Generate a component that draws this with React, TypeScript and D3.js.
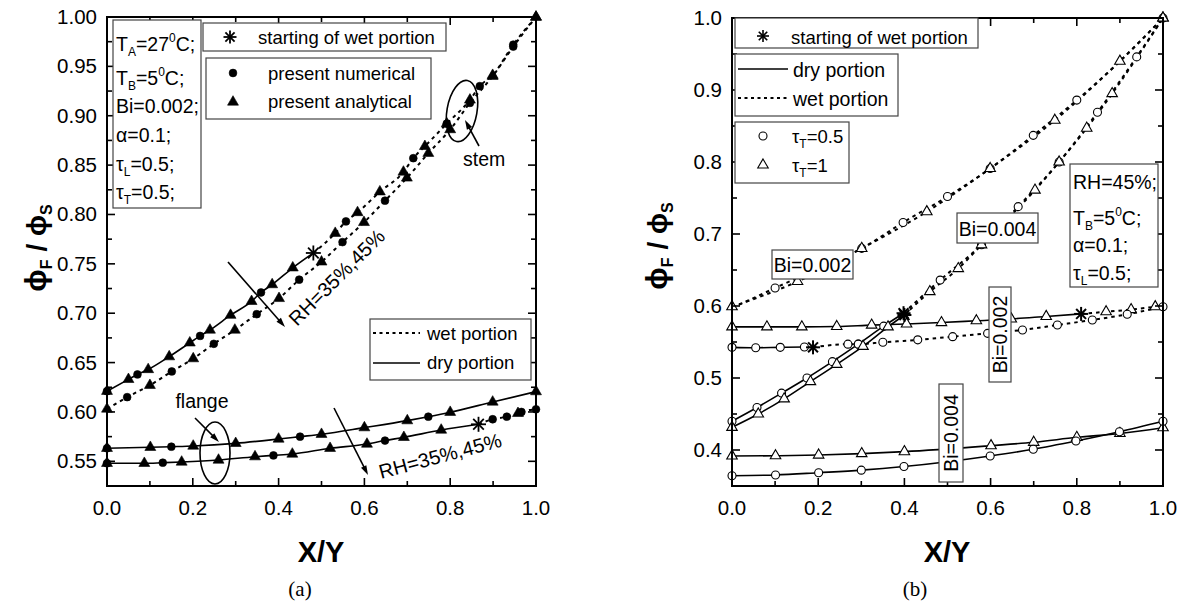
import React from 'react';
import * as d3 from 'd3';

// ---------- shared axis ticks ----------
const xTicks = [0, 0.2, 0.4, 0.6, 0.8, 1.0];
const xMinorTicks = [0.1, 0.3, 0.5, 0.7, 0.9];

// ---------- panel (a) ----------
const aYTicks = [0.55, 0.6, 0.65, 0.7, 0.75, 0.8, 0.85, 0.9, 0.95, 1.0];
const aYMinor = [0.575, 0.625, 0.675, 0.725, 0.775, 0.825, 0.875, 0.925, 0.975];

// stem, RH=35% (dry up to the star, then wet)
const aStem35X = [0, 0.05, 0.071, 0.096, 0.145, 0.193, 0.217, 0.24, 0.288, 0.337, 0.359, 0.385, 0.433, 0.481, 0.532, 0.557, 0.584, 0.636, 0.691, 0.714, 0.741, 0.792, 0.846, 0.869, 0.899, 0.947, 1.0];
const aStem35Y = [0.621, 0.633, 0.638, 0.643, 0.656, 0.67, 0.677, 0.683, 0.698, 0.712, 0.721, 0.729, 0.746, 0.761, 0.781, 0.793, 0.802, 0.823, 0.843, 0.857, 0.869, 0.892, 0.916, 0.93, 0.941, 0.972, 1.0];
const aStem35M = ['ct', 't', 'c', 't', 't', 't', 'c', 't', 't', 't', 'c', 't', 't', 's', 't', 'c', 't', 't', 't', 'c', 't', 'ct', 't', 'c', 't', 'c', 't'];

// stem, RH=45% (wet all along)
const aStem45X = [0, 0.047, 0.1, 0.151, 0.201, 0.249, 0.298, 0.349, 0.401, 0.448, 0.5, 0.549, 0.599, 0.648, 0.699, 0.749, 0.8, 0.846, 0.899, 0.947, 1.0];
const aStem45Y = [0.603, 0.615, 0.627, 0.641, 0.654, 0.669, 0.683, 0.699, 0.715, 0.734, 0.752, 0.772, 0.792, 0.814, 0.837, 0.862, 0.886, 0.913, 0.94, 0.97, 1.0];
const aStem45M = ['t', 'c', 't', 'c', 't', 'c', 't', 'c', 't', 'c', 't', 'c', 't', 'c', 't', 't', 't', 'c', 't', 'c', 't'];

// flange, RH=35% (dry all along)
const aFl35X = [0, 0.101, 0.15, 0.201, 0.3, 0.4, 0.45, 0.5, 0.6, 0.7, 0.749, 0.8, 0.899, 1.0];
const aFl35Y = [0.5632, 0.5642, 0.5648, 0.5655, 0.5682, 0.5726, 0.575, 0.5774, 0.5841, 0.5912, 0.5952, 0.5997, 0.6101, 0.6206];
const aFl35M = ['ct', 't', 'c', 't', 't', 't', 'c', 't', 't', 't', 'c', 't', 't', 't'];

// flange, RH=45% (dry up to the star, then wet)
const aFl45X = [0, 0.087, 0.13, 0.174, 0.26, 0.345, 0.388, 0.432, 0.52, 0.606, 0.648, 0.692, 0.779, 0.866, 0.899, 0.932, 0.958, 0.966, 1.0];
const aFl45Y = [0.548, 0.548, 0.5486, 0.5493, 0.5513, 0.5547, 0.556, 0.5574, 0.5632, 0.5675, 0.571, 0.5743, 0.5817, 0.5875, 0.5926, 0.5952, 0.5986, 0.6, 0.6027];
const aFl45M = ['ct', 't', 'c', 't', 't', 't', 'c', 't', 't', 't', 'c', 't', 't', 's', 'c', 'c', 't', 'c', 'c'];

// ---------- panel (b) ----------
const bYTicks = [0.4, 0.5, 0.6, 0.7, 0.8, 0.9, 1.0];
const bYMinor = [0.45, 0.55, 0.65, 0.75, 0.85, 0.95];

// Bi=0.002 stem, tau_T=0.5 and 1 (wet all along)
const bS2cX = [0, 0.1, 0.2, 0.301, 0.397, 0.5, 0.599, 0.699, 0.8, 0.9, 1.0];
const bS2cY = [0.597, 0.625, 0.652, 0.68, 0.716, 0.752, 0.791, 0.837, 0.886, 0.94, 1.0];
const bS2cM = ['', 'c', '', 'c', 'c', 'c', 'c', 'c', 'c', '', 'c'];
const bS2tX = [0, 0.152, 0.301, 0.452, 0.599, 0.749, 0.9, 1.0];
const bS2tY = [0.599, 0.634, 0.68, 0.731, 0.791, 0.858, 0.94, 1.0];
const bS2tM = ['t', 't', 't', 't', 't', 't', 't', 't'];

// Bi=0.002 flange
const bF2tX = [0, 0.081, 0.162, 0.243, 0.324, 0.405, 0.486, 0.567, 0.648, 0.729, 0.81, 0.868, 0.926, 0.982];
const bF2tY = [0.571, 0.571, 0.571, 0.5715, 0.5735, 0.575, 0.577, 0.5795, 0.582, 0.5855, 0.589, 0.592, 0.595, 0.599];
const bF2tM = ['t', 't', 't', 't', 't', 't', 't', 't', 't', 't', 's', 't', 't', 't'];
const bF2cX = [0, 0.055, 0.112, 0.168, 0.188, 0.269, 0.293, 0.35, 0.431, 0.512, 0.593, 0.674, 0.755, 0.836, 0.917, 1.0];
const bF2cY = [0.5426, 0.542, 0.5426, 0.543, 0.5426, 0.547, 0.547, 0.5496, 0.553, 0.5574, 0.562, 0.5667, 0.5736, 0.5806, 0.5885, 0.599];
const bF2cM = ['c', 'c', 'c', 'c', 's', 'c', 'c', 'c', 'c', 'c', 'c', 'c', 'c', 'c', 'c', 'c'];

// Bi=0.004 stem
const bS4cX = [0, 0.058, 0.115, 0.174, 0.233, 0.293, 0.352, 0.398, 0.483, 0.579, 0.664, 0.759, 0.848, 0.939, 1.0];
const bS4cY = [0.44, 0.459, 0.479, 0.5, 0.5227, 0.547, 0.572, 0.59, 0.636, 0.685, 0.738, 0.8, 0.869, 0.946, 1.0];
const bS4cM = ['c', 'c', 'c', 'c', 'c', 'c', 'c', 's', 'c', 'c', 'c', 'c', 'c', 'c', ''];
const bS4tX = [0, 0.061, 0.121, 0.182, 0.243, 0.304, 0.362, 0.4, 0.459, 0.525, 0.579, 0.703, 0.759, 0.823, 0.882, 1.0];
const bS4tY = [0.4315, 0.45, 0.471, 0.495, 0.519, 0.544, 0.571, 0.5875, 0.62, 0.652, 0.685, 0.761, 0.8, 0.847, 0.895, 1.0];
const bS4tM = ['t', 't', 't', 't', 't', 't', 't', 's', 't', 't', 't', 't', 't', 't', 't', 't'];

// Bi=0.004 flange (dry all along)
const bF4tX = [0, 0.101, 0.201, 0.301, 0.4, 0.601, 0.7, 0.8, 0.9, 1.0];
const bF4tY = [0.3917, 0.392, 0.393, 0.395, 0.3977, 0.406, 0.4107, 0.4176, 0.423, 0.431];
const bF4cX = [0, 0.101, 0.201, 0.3, 0.399, 0.599, 0.699, 0.798, 0.899, 1.0];
const bF4cY = [0.3643, 0.3653, 0.3685, 0.372, 0.377, 0.3917, 0.401, 0.4125, 0.4254, 0.44];

type Curve = { x: number[]; y: number[]; m: string[]; wet: number };

const aCurves: Curve[] = [
  { x: aStem35X, y: aStem35Y, m: aStem35M, wet: 13 },
  { x: aStem45X, y: aStem45Y, m: aStem45M, wet: 0 },
  { x: aFl35X, y: aFl35Y, m: aFl35M, wet: -1 },
  { x: aFl45X, y: aFl45Y, m: aFl45M, wet: 13 },
];
const bCurves: Curve[] = [
  { x: bS2cX, y: bS2cY, m: bS2cM, wet: 0 },
  { x: bS2tX, y: bS2tY, m: bS2tM, wet: 0 },
  { x: bF2tX, y: bF2tY, m: bF2tM, wet: 10 },
  { x: bF2cX, y: bF2cY, m: bF2cM, wet: 4 },
  { x: bS4cX, y: bS4cY, m: bS4cM, wet: 7 },
  { x: bS4tX, y: bS4tY, m: bS4tM, wet: 7 },
  { x: bF4tX, y: bF4tY, m: bF4tX.map(() => 't'), wet: -1 },
  { x: bF4cX, y: bF4cY, m: bF4cX.map(() => 'c'), wet: -1 },
];

const SANS = '"Liberation Sans", Arial, sans-serif';
const SERIF = '"Liberation Serif", "Times New Roman", serif';

const axs = d3.scaleLinear().domain([0, 1]).range([107, 536]);
const ays = d3.scaleLinear().domain([0.525, 1]).range([486, 17]);
const bxs = d3.scaleLinear().domain([0, 1]).range([732, 1163]);
const bys = d3.scaleLinear().domain([0.35, 1]).range([486, 18]);

const Star = ({ x, y, r, w = 1.8 }: any) => (
  <g stroke="#000" strokeWidth={w}>
    {[0, 45, 90, 135].map(a => {
      const t = (a * Math.PI) / 180;
      return <line key={a} x1={x - r * Math.cos(t)} y1={y - r * Math.sin(t)} x2={x + r * Math.cos(t)} y2={y + r * Math.sin(t)} />;
    })}
  </g>
);

const Mark = ({ k, x, y, open }: any) => {
  const tri = d3.symbol().type(d3.symbolTriangle).size(open ? 48 : 52)();
  return (
    <g>
      {k.includes('c') && (
        <circle cx={x} cy={y} r={open ? 4 : 3.9} fill={open ? '#fff' : '#000'} stroke="#000" strokeWidth={open ? 1.1 : 0.6} />
      )}
      {k.includes('t') && (
        <path d={tri || ''} transform={`translate(${x},${y})`} fill={open ? '#fff' : '#000'} stroke="#000" strokeWidth={open ? 1.1 : 0.6} />
      )}
      {k.includes('s') && <Star x={x} y={y} r={open ? 7 : 7.5} w={open ? 2 : 1.8} />}
    </g>
  );
};

const Arrow = ({ x1, y1, x2, y2, h = 10 }: any) => {
  const a = Math.atan2(y2 - y1, x2 - x1);
  const p = (s: number) => `${x2 - h * Math.cos(a + s)},${y2 - h * Math.sin(a + s)}`;
  return (
    <g>
      <line x1={x1} y1={y1} x2={x2 - 4 * Math.cos(a)} y2={y2 - 4 * Math.sin(a)} stroke="#000" strokeWidth={1.6} />
      <polygon points={`${x2},${y2} ${p(0.3)} ${p(-0.3)}`} fill="#000" />
    </g>
  );
};

function Curves({ curves, xs, ys, open }: any) {
  return (
    <g>
      {curves.map((c: Curve, ci: number) => {
        const line = d3
          .line<number>()
          .x(i => xs(c.x[i]))
          .y(i => ys(c.y[i]))
          .curve(d3.curveMonotoneX);
        const idx = c.x.map((_, i) => i);
        const dry = c.wet < 0 ? idx : idx.slice(0, c.wet + 1);
        const wet = c.wet < 0 ? [] : idx.slice(c.wet);
        return (
          <g key={ci}>
            {dry.length > 1 && <path d={line(dry) || ''} fill="none" stroke="#000" strokeWidth={1.6} />}
            {wet.length > 1 && <path d={line(wet) || ''} fill="none" stroke="#000" strokeWidth={2} strokeDasharray="3.5,4" />}
          </g>
        );
      })}
      {curves.map((c: Curve, ci: number) =>
        c.x.map((v, i) => (c.m[i] ? <Mark key={`${ci}-${i}`} k={c.m[i]} x={xs(v)} y={ys(c.y[i])} open={open} /> : null))
      )}
    </g>
  );
}

function Frame({ xs, ys, yTicks, yMinor, fmt }: any) {
  const [l, r] = xs.range();
  const [b, t] = ys.range();
  const M = 8, m = 5;
  return (
    <g stroke="#000" strokeWidth={1.6}>
      <rect x={l} y={t} width={r - l} height={b - t} fill="none" strokeWidth={2} />
      {xTicks.map((v: number) => (
        <g key={'x' + v}>
          <line x1={xs(v)} x2={xs(v)} y1={b} y2={b - M} />
          <line x1={xs(v)} x2={xs(v)} y1={t} y2={t + M} />
        </g>
      ))}
      {xMinorTicks.map((v: number) => (
        <g key={'xm' + v}>
          <line x1={xs(v)} x2={xs(v)} y1={b} y2={b - m} />
          <line x1={xs(v)} x2={xs(v)} y1={t} y2={t + m} />
        </g>
      ))}
      {yTicks.map((v: number) => (
        <g key={'y' + v}>
          <line x1={l} x2={l + M} y1={ys(v)} y2={ys(v)} />
          <line x1={r} x2={r - M} y1={ys(v)} y2={ys(v)} />
        </g>
      ))}
      {yMinor.map((v: number) => (
        <g key={'ym' + v}>
          <line x1={l} x2={l + m} y1={ys(v)} y2={ys(v)} />
          <line x1={r} x2={r - m} y1={ys(v)} y2={ys(v)} />
        </g>
      ))}
      <g stroke="none" fill="#000" fontFamily={SANS} fontSize={20.5}>
        {xTicks.map((v: number) => (
          <text key={'xl' + v} x={xs(v)} y={b + 29} textAnchor="middle">
            {v.toFixed(1)}
          </text>
        ))}
        {yTicks.map((v: number) => (
          <text key={'yl' + v} x={l - 10} y={ys(v) + 7} textAnchor="end">
            {fmt(v)}
          </text>
        ))}
      </g>
    </g>
  );
}

const YTitle = ({ x, y }: any) => (
  <text transform={`translate(${x},${y}) rotate(-90)`} textAnchor="middle" fontFamily={SANS} fontWeight="bold" fontSize={30}>
    ϕ<tspan fontSize={16} dy={6}>F</tspan>
    <tspan dy={-6} fontSize={28}> / ϕ</tspan>
    <tspan fontSize={16} dy={6}>S</tspan>
  </text>
);

const Sub = ({ t, s, rest, sup, tail }: any) => (
  <>
    {t}
    <tspan fontSize={12} dy={5}>{s}</tspan>
    <tspan dy={-5}>{rest}</tspan>
    {sup !== undefined && (
      <>
        <tspan fontSize={12} dy={-9}>{sup}</tspan>
        <tspan dy={9}>{tail}</tspan>
      </>
    )}
  </>
);

export default function App() {
  const box = { fill: '#fff', stroke: '#444', strokeWidth: 1.2 };
  return (
    <svg width={1187} height={606} style={{ position: 'absolute', left: 0, top: 0, background: '#fff' }} fontFamily={SANS}>
      {/* ---------- panel (a) ---------- */}
      <Curves curves={aCurves} xs={axs} ys={ays} open={false} />
      <Frame xs={axs} ys={ays} yTicks={aYTicks} yMinor={aYMinor} fmt={(v: number) => v.toFixed(2)} />

      {/* parameter box */}
      <rect x={113} y={20} width={88} height={188} {...box} />
      <g fontSize={19.5}>
        <text x={116} y={51}><Sub t="T" s="A" rest="=27" sup="0" tail="C;" /></text>
        <text x={116} y={85}><Sub t="T" s="B" rest="=5" sup="0" tail="C;" /></text>
        <text x={116} y={113}>Bi=0.002;</text>
        <text x={116} y={142}>α=0.1;</text>
        <text x={116} y={171}><Sub t="τ" s="L" rest="=0.5;" /></text>
        <text x={116} y={199}><Sub t="τ" s="T" rest="=0.5;" /></text>
      </g>

      {/* legends */}
      <rect x={203} y={23} width={243} height={28} {...box} />
      <Star x={230} y={37} r={6.5} w={1.8} />
      <text x={258} y={44} fontSize={18.5}>starting of wet portion</text>
      <rect x={206} y={58} width={225} height={61} {...box} />
      <Mark k="c" x={233} y={73} open={false} />
      <Mark k="t" x={233} y={102} open={false} />
      <text x={268} y={80} fontSize={18.5}>present numerical</text>
      <text x={268} y={108} fontSize={18.5}>present analytical</text>

      <rect x={370} y={319} width={161} height={61} {...box} />
      <line x1={373} x2={420} y1={333} y2={333} stroke="#000" strokeWidth={2} strokeDasharray="3,3.5" />
      <line x1={373} x2={420} y1={363} y2={363} stroke="#000" strokeWidth={1.6} />
      <text x={427} y={340} fontSize={18.5}>wet portion</text>
      <text x={427} y={369} fontSize={18.5}>dry portion</text>

      {/* stem annotations */}
      <ellipse cx={462} cy={111} rx={15} ry={31} transform="rotate(10,462,111)" fill="none" stroke="#000" strokeWidth={1.6} />
      <Arrow x1={479} y1={146} x2={465} y2={120} />
      <text x={463} y={166} fontSize={19.5}>stem</text>
      <Arrow x1={228} y1={262} x2={285} y2={327} />
      <text transform="translate(297,327) rotate(-45)" fontSize={20}>RH=35%,45%</text>

      {/* flange annotations */}
      <ellipse cx={215} cy={453} rx={15} ry={31} fill="none" stroke="#000" strokeWidth={1.6} />
      <Arrow x1={195} y1={418} x2={219} y2={442} />
      <text x={202} y={408} fontSize={19.5} textAnchor="middle">flange</text>
      <Arrow x1={334} y1={408} x2={368} y2={475} />
      <text transform="translate(381,479) rotate(-15)" fontSize={20}>RH=35%,45%</text>

      <text x={321} y={562} textAnchor="middle" fontWeight="bold" fontSize={29}>X/Y</text>
      <YTitle x={46} y={248} />
      <text x={300} y={596} textAnchor="middle" fontFamily={SERIF} fontSize={21}>(a)</text>

      {/* ---------- panel (b) ---------- */}
      <Curves curves={bCurves} xs={bxs} ys={bys} open={true} />
      <Frame xs={bxs} ys={bys} yTicks={bYTicks} yMinor={bYMinor} fmt={(v: number) => v.toFixed(1)} />

      <rect x={735} y={18} width={243} height={30} {...box} />
      <Star x={763} y={36} r={6} w={1.6} />
      <text x={791} y={44} fontSize={18.5}>starting of wet portion</text>
      <rect x={735} y={54} width={163} height={62} {...box} />
      <line x1={738} x2={788} y1={69} y2={69} stroke="#000" strokeWidth={1.6} />
      <line x1={738} x2={788} y1={98} y2={98} stroke="#000" strokeWidth={1.8} strokeDasharray="3,3.5" />
      <text x={793} y={77} fontSize={19.5}>dry portion</text>
      <text x={793} y={106} fontSize={19.5}>wet portion</text>
      <rect x={735} y={122} width={114} height={61} {...box} />
      <Mark k="c" x={763} y={136} open={true} />
      <Mark k="t" x={763} y={165} open={true} />
      <g fontSize={18.5}>
        <text x={792} y={143}><Sub t="τ" s="T" rest="=0.5" /></text>
        <text x={792} y={172}><Sub t="τ" s="T" rest="=1" /></text>
      </g>

      <rect x={1070} y={164} width={88} height={123} {...box} />
      <g fontSize={19.5}>
        <text x={1073} y={189}>RH=45%;</text>
        <text x={1073} y={225}><Sub t="T" s="B" rest="=5" sup="0" tail="C;" /></text>
        <text x={1073} y={252}>α=0.1;</text>
        <text x={1073} y={280}><Sub t="τ" s="L" rest="=0.5;" /></text>
      </g>

      <rect x={957} y={213} width={81} height={30} {...box} />
      <text x={997.5} y={236} fontSize={19.5} textAnchor="middle">Bi=0.004</text>
      <rect x={772} y={250} width={81} height={29} {...box} />
      <text x={812.5} y={272} fontSize={19.5} textAnchor="middle">Bi=0.002</text>
      <rect x={989} y={287} width={22} height={95} {...box} />
      <text transform="translate(1007,334.5) rotate(-90)" fontSize={19.5} textAnchor="middle">Bi=0.002</text>
      <rect x={939} y={384} width={24} height={98} {...box} />
      <text transform="translate(958,433) rotate(-90)" fontSize={19.5} textAnchor="middle">Bi=0.004</text>

      <text x={947} y={562} textAnchor="middle" fontWeight="bold" fontSize={29}>X/Y</text>
      <YTitle x={667} y={246} />
      <text x={915} y={596} textAnchor="middle" fontFamily={SERIF} fontSize={21}>(b)</text>
    </svg>
  );
}
